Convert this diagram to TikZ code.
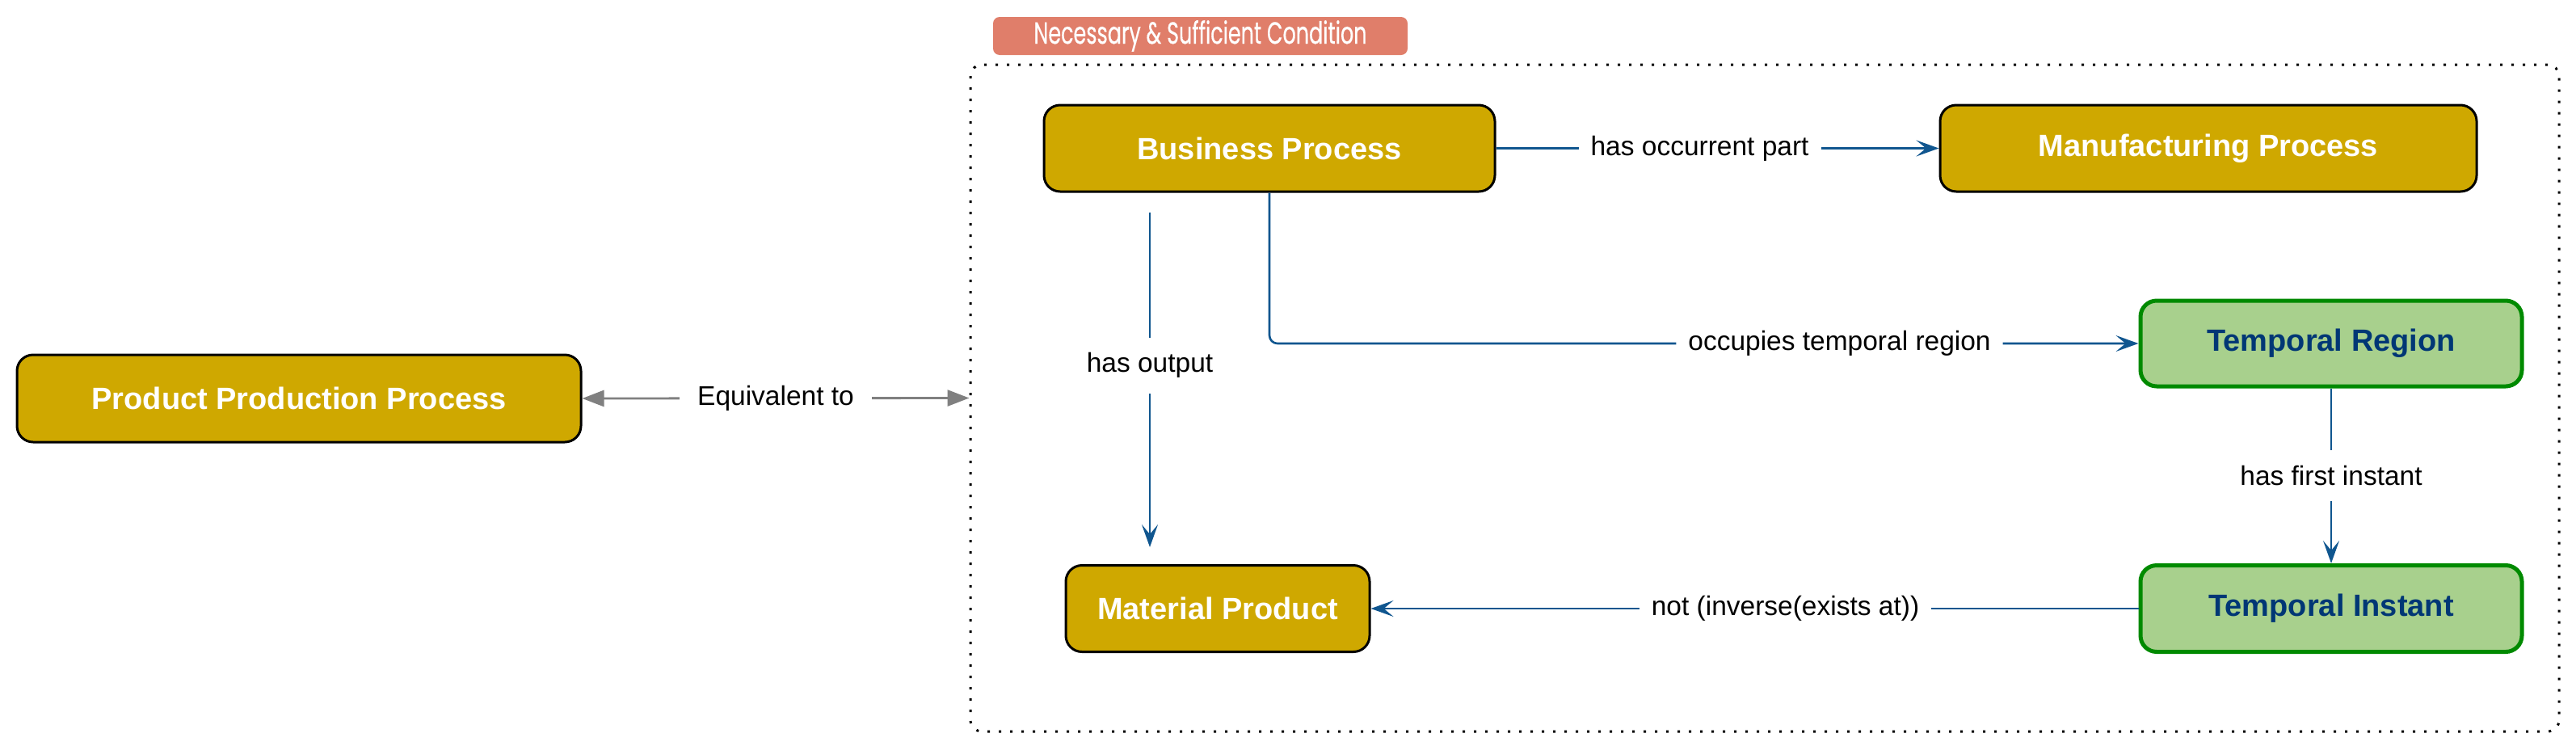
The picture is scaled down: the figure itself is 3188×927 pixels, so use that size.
\documentclass[tikz,border=0pt]{standalone}
\usepackage{fontspec}
\setmainfont{Liberation Sans}
\newfontfamily\futfont[FakeBold=0.5]{Poppins}
\usetikzlibrary{arrows.meta}
\definecolor{gold}{HTML}{CFA800}
\definecolor{greenfill}{HTML}{A8D08D}
\definecolor{greenline}{HTML}{008A00}
\definecolor{navy}{HTML}{003775}
\definecolor{edgeblue}{HTML}{10568F}
\definecolor{salmon}{HTML}{E07E6A}
\definecolor{arrowgray}{HTML}{808080}
\begin{document}
\begin{tikzpicture}[x=0.5pt,y=-0.5pt,
  nodefont/.style={font=\fontsize{19pt}{22pt}\selectfont\bfseries},
  goldbox/.style={nodefont, draw=black, line width=1.5pt, fill=gold, rounded corners=10pt, text=white, inner sep=0pt, minimum height=53.5pt},
  greenbox/.style={nodefont, draw=greenline, line width=2.5pt, fill=greenfill, rounded corners=10pt, text=navy, inner sep=0pt, minimum width=236pt, minimum height=53.5pt},
  rel/.style={draw=edgeblue, line width=1.3pt, -{Stealth[length=14pt,width=10pt,inset=6pt]}},
  equiv/.style={draw=arrowgray, line width=1.4pt, {Triangle[length=13.5pt,width=10pt]}-{Triangle[length=13.5pt,width=10pt]}},
  lbl/.style={fill=white, text=black, font=\fontsize{16.75pt}{20pt}\selectfont, inner xsep=7.5pt, inner ysep=2pt},
  lblv/.style={lbl, inner xsep=2pt, inner ysep=9.5pt},
  container/.style={draw=black, line width=1.5pt, dash pattern=on 1.5pt off 5.5pt, rounded corners=7pt, inner sep=0pt},
  header/.style={fill=salmon, rounded corners=4pt, text=white, inner sep=0pt}
]
\useasboundingbox (0,0) rectangle (3188,927);

% container and its header
\node[container, minimum width=983pt, minimum height=412.5pt] (cont) at (2184,492.5) {};
\node[header, minimum width=256.5pt, minimum height=23.5pt] (hdr) at (1485.5,44.5)
  {\resizebox{206pt}{14.5pt}{\futfont Necessary \& Sufficient Condition}};

% nodes
\node[goldbox, minimum width=349pt, minimum height=54pt] (ppp) at (370,493) {Product Production Process};
\node[goldbox, minimum width=279pt] (bp) at (1571,183.5) {Business Process};
\node[goldbox, minimum width=332pt] (mp) at (2733,183.5) {Manufacturing Process};
\node[goldbox, minimum width=188pt] (matprod) at (1507,753) {Material Product};
\node[greenbox, minimum height=53pt] (tr) at (2885,425) {Temporal Region};
\node[greenbox] (ti) at (2885,753) {Temporal Instant};

\coordinate (hox) at (1423,0);

% connectors
\draw[equiv] (ppp.east) -- node[lbl, inner xsep=11pt] {Equivalent to} (cont.west);
\draw[rel] (bp.east) -- node[lbl, pos=0.46] {has occurrent part} (mp.west);
\draw[rel, shorten <=12pt, shorten >=10.5pt] (bp.south -| hox) -- node[lblv, pos=0.465] {has output} (matprod.north -| hox);
\draw[rel, rounded corners=5pt] (bp.south) |- node[lbl, pos=0.828] {occupies temporal region} (tr.west);
\draw[rel] (tr.south) -- node[lblv] {has first instant} (ti.north);
\draw[rel] (ti.west) -- node[lbl, pos=0.46] {not (inverse(exists at))} (matprod.east);
\end{tikzpicture}
\end{document}
